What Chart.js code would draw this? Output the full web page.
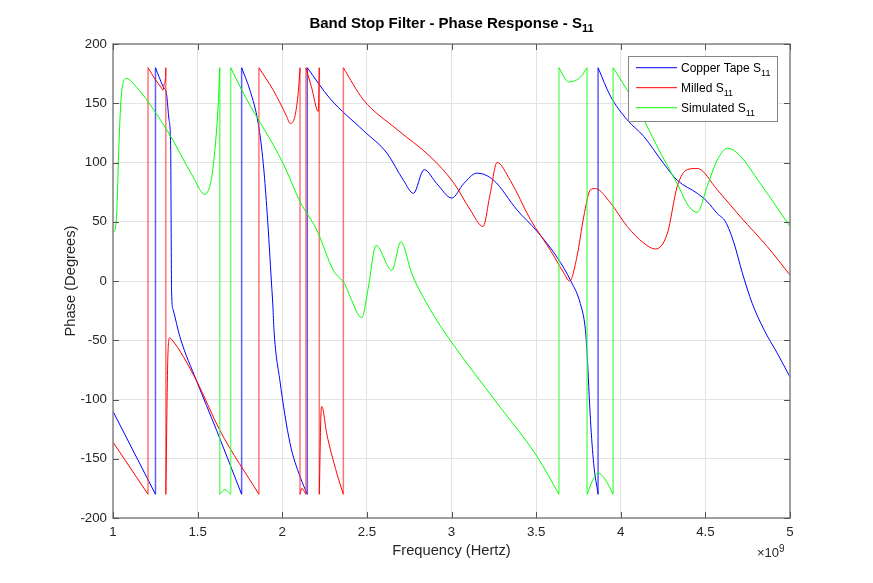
<!DOCTYPE html>
<html>
<head>
<meta charset="utf-8">
<title>Band Stop Filter - Phase Response - S11</title>
<script src="https://cdn.jsdelivr.net/npm/chart.js@4.4.1/dist/chart.umd.min.js"></script>
<style>
  html, body { margin: 0; padding: 0; background: #fff; }
  canvas { display: block; }
</style>
</head>
<body>
<canvas id="phaseChart" width="873" height="583"></canvas>
<script>
// Frequency values are in units of 10^9 Hz, phase in degrees.
// A wrap (+180 -> -180) is stored as two points at the same frequency.
const FREQ_EXPONENT = 9;
const xTicks = [1, 1.5, 2, 2.5, 3, 3.5, 4, 4.5, 5];
const yTicks = [-200, -150, -100, -50, 0, 50, 100, 150, 200];

const seriesNames = ['Copper Tape S', 'Milled S', 'Simulated S'];
const seriesSub = ['11', '11', '11'];
const seriesColors = ['#0000ff', '#ff0000', '#00ff00'];
const wrapColors = ['rgba(40,40,255,0.75)', 'rgba(255,60,60,0.7)', 'rgba(60,255,60,0.75)'];

const copperFreq = [1.000, 1.251, 1.251, 1.296, 1.316, 1.331, 1.341, 1.343, 1.346, 1.355, 1.395, 1.493, 1.612, 1.760,
  1.760, 1.809, 1.858, 1.888, 1.908, 1.921, 1.933, 1.945, 1.951, 1.986, 2.046, 2.105, 2.148,
  2.148, 2.282, 2.479, 2.618, 2.716, 2.775, 2.838, 2.914, 3.002, 3.071, 3.150, 3.249, 3.387, 3.505, 3.624, 3.705,
  3.761, 3.791, 3.801, 3.821, 3.840, 3.866,
  3.866, 3.939, 4.038, 4.136, 4.254, 4.334, 4.452, 4.511, 4.570, 4.619, 4.669, 4.718, 4.777, 4.846, 4.925, 5.000];
const copperPhase = [-110, -180, 180, 164, 158, 136, 110, 60, -8, -24, -47, -84, -126, -180,
  180, 161, 133, 99, 63, 35, 6, -22, -41, -84, -137, -165, -180,
  180, 154, 127, 108, 85, 74, 94, 82, 70, 82, 91, 85, 60, 42, 20, 0,
  -19, -41, -61, -117, -154, -180,
  180, 156, 136, 122, 99, 85, 74, 67, 57, 50, 32, 7, -19, -41, -61, -81];

const milledFreq = [1.000, 1.207, 1.207, 1.250, 1.286, 1.296, 1.302, 1.310, 1.312,
  1.312, 1.325, 1.335, 1.345, 1.493, 1.631, 1.862,
  1.862, 1.947, 2.026, 2.046, 2.075, 2.095, 2.105,
  2.105, 2.115, 2.140,
  2.140, 2.174, 2.213, 2.218, 2.219,
  2.219, 2.228, 2.234, 2.263, 2.322, 2.361,
  2.361, 2.479, 2.677, 2.874, 3.012, 3.111, 3.186, 3.229, 3.269, 3.347, 3.466, 3.584, 3.663, 3.698,
  3.742, 3.781, 3.821, 3.850, 3.939, 4.038, 4.136, 4.205, 4.275, 4.334, 4.393, 4.452, 4.570, 4.708, 4.866, 5.000];
const milledPhase = [-136, -180, 180, 170, 163, 161, 166, 171, 180,
  -180, -60, -48, -49, -84, -126, -180,
  180, 161, 139, 133, 139, 160, 180,
  -180, -175, -180,
  180, 163, 143, 171, 180,
  -180, -115, -106, -129, -162, -180,
  180, 153, 128, 105, 83, 60, 46, 74, 100, 85, 52, 26, 7, 0,
  21, 54, 77, 78, 66, 46, 32, 27, 40, 80, 94, 95, 77, 54, 29, 5];

const simFreq = [1.000, 1.020, 1.036, 1.050, 1.079, 1.118, 1.316, 1.473, 1.543, 1.575, 1.592, 1.621, 1.631,
  1.631, 1.661, 1.695,
  1.695, 1.780, 2.006, 2.105, 2.204, 2.302, 2.371, 2.400, 2.470, 2.509, 2.554, 2.647, 2.701, 2.766, 2.874, 2.992,
  3.269, 3.505, 3.635,
  3.635, 3.692, 3.762, 3.801,
  3.801, 3.835, 3.866, 3.910, 3.955,
  3.955, 4.038, 4.136, 4.235, 4.334, 4.402, 4.452, 4.511, 4.570, 4.630, 4.689, 4.826, 5.000];
const simPhase = [40, 52, 119, 158, 171, 167, 128, 88, 73, 82, 97, 147, 180,
  -180, -176, -180,
  180, 156, 99, 67, 43, 9, -3, -13, -31, -5, 30, 9, 33, 6, -24, -50,
  -103, -148, -180,
  180, 168, 172, 180,
  -180, -168, -162, -168, -180,
  180, 161, 136, 108, 82, 63, 58, 80, 102, 112, 108, 82, 46];

const FONT = '"Liberation Sans", Arial, Helvetica, sans-serif';

// split a series into smooth branches (gaps at wraps) and the vertical wrap segments
function splitSeries(xs, ys) {
  const curve = [], wraps = [];
  for (let i = 0; i < xs.length; i++) {
    curve.push({ x: xs[i], y: ys[i] });
    if (i + 1 < xs.length && xs[i + 1] === xs[i]) {
      curve.push({ x: xs[i], y: null });
      wraps.push({ x: xs[i], y: ys[i] }, { x: xs[i + 1], y: ys[i + 1] }, { x: xs[i], y: null });
    }
  }
  return { curve, wraps };
}

// text with a lowered subscript, returns total width
function textWithSub(ctx, main, sub, x, y, mainFont, subFont, drop, draw) {
  ctx.font = mainFont;
  const w1 = ctx.measureText(main).width;
  ctx.font = subFont;
  const w2 = ctx.measureText(sub).width;
  if (draw) {
    ctx.textAlign = 'left';
    ctx.font = mainFont;
    ctx.fillText(main, x, y);
    ctx.font = subFont;
    ctx.fillText(sub, x + w1, y + drop);
  }
  return w1 + w2;
}

const matlabDecor = {
  id: 'matlabDecor',
  afterDatasetsDraw(chart) {
    const { ctx, chartArea: a, scales: { x, y } } = chart;
    ctx.save();

    // axes box
    ctx.strokeStyle = '#858585';
    ctx.lineWidth = 1.5;
    ctx.strokeRect(a.left, a.top, a.right - a.left, a.bottom - a.top);

    // inward tick marks on all four sides
    ctx.strokeStyle = '#555';
    ctx.lineWidth = 1;
    ctx.beginPath();
    xTicks.forEach(v => {
      const px = Math.round(x.getPixelForValue(v)) + 0.5;
      ctx.moveTo(px, a.bottom); ctx.lineTo(px, a.bottom - 6);
      ctx.moveTo(px, a.top); ctx.lineTo(px, a.top + 6);
    });
    yTicks.forEach(v => {
      const py = Math.round(y.getPixelForValue(v)) + 0.5;
      ctx.moveTo(a.left, py); ctx.lineTo(a.left + 6, py);
      ctx.moveTo(a.right, py); ctx.lineTo(a.right - 6, py);
    });
    ctx.stroke();

    ctx.fillStyle = '#000';
    ctx.textBaseline = 'alphabetic';

    // title
    const tMain = 'bold 15px ' + FONT, tSub = 'bold 11px ' + FONT;
    const tw = textWithSub(ctx, 'Band Stop Filter - Phase Response - S', '11', 0, 0, tMain, tSub, 4, false);
    const cx = (a.left + a.right) / 2;
    textWithSub(ctx, 'Band Stop Filter - Phase Response - S', '11', cx - tw / 2, 28, tMain, tSub, 4, true);

    // axis labels
    ctx.fillStyle = '#262626';
    ctx.font = '14.7px ' + FONT;
    ctx.textAlign = 'center';
    ctx.fillText('Frequency (Hertz)', cx, 555);
    ctx.save();
    ctx.translate(75, (a.top + a.bottom) / 2);
    ctx.rotate(-Math.PI / 2);
    ctx.fillText('Phase (Degrees)', 0, 0);
    ctx.restore();

    // exponent label
    ctx.textAlign = 'left';
    ctx.font = '13px ' + FONT;
    const ex = '\u00d710';
    ctx.fillText(ex, 757, 557);
    const ew = ctx.measureText(ex).width;
    ctx.font = '10px ' + FONT;
    ctx.fillText(String(FREQ_EXPONENT), 757 + ew, 552);

    // legend
    const lx = 628, ly = 56, lw = 149, lh = 65;
    ctx.fillStyle = '#fff';
    ctx.fillRect(lx, ly, lw, lh);
    ctx.strokeStyle = '#858585';
    ctx.lineWidth = 1;
    ctx.strokeRect(lx + 0.5, ly + 0.5, lw, lh);
    const lMain = '12px ' + FONT, lSub = '9px ' + FONT;
    seriesNames.forEach((name, i) => {
      const rowY = ly + 11.7 + i * 20;
      ctx.strokeStyle = seriesColors[i];
      ctx.beginPath();
      ctx.moveTo(636, rowY); ctx.lineTo(677, rowY);
      ctx.stroke();
      ctx.fillStyle = '#000';
      textWithSub(ctx, name, seriesSub[i], 681, rowY + 4, lMain, lSub, 4, true);
    });

    ctx.restore();
  }
};

const makeDatasets = (i, xs, ys, order) => {
  const parts = splitSeries(xs, ys);
  return [{
    label: seriesNames[i] + seriesSub[i],
    data: parts.curve,
    borderColor: seriesColors[i],
    borderWidth: 1,
    pointRadius: 0,
    cubicInterpolationMode: 'monotone',
    spanGaps: false,
    order: order
  }, {
    label: seriesNames[i] + seriesSub[i] + ' wrap',
    data: parts.wraps,
    borderColor: wrapColors[i],
    borderWidth: 1.5,
    pointRadius: 0,
    tension: 0,
    spanGaps: false,
    order: order
  }];
};

const ctx = document.getElementById('phaseChart').getContext('2d');
const phaseChart = new Chart(ctx, {
  type: 'line',
  data: {
    datasets: [
      ...makeDatasets(0, copperFreq, copperPhase, 2),
      ...makeDatasets(1, milledFreq, milledPhase, 1),
      ...makeDatasets(2, simFreq, simPhase, 0)
    ]
  },
  options: {
    responsive: false,
    animation: false,
    layout: { padding: { left: 0, top: 44, right: 83, bottom: 0 } },
    plugins: {
      legend: { display: false },
      title: { display: false },
      tooltip: { enabled: false }
    },
    scales: {
      x: {
        type: 'linear',
        min: 1,
        max: 5,
        afterBuildTicks: s => { s.ticks = xTicks.map(v => ({ value: v })); },
        afterFit: s => { s.height = 65; s.paddingLeft = 0; s.paddingRight = 0; },
        grid: { color: '#e3e3e3', drawTicks: false },
        border: { display: false },
        ticks: {
          padding: 6,
          maxRotation: 0,
          autoSkip: false,
          color: '#262626',
          font: { family: FONT, size: 13.3 },
          callback: v => String(v)
        }
      },
      y: {
        min: -200,
        max: 200,
        afterBuildTicks: s => { s.ticks = yTicks.map(v => ({ value: v })); },
        afterFit: s => { s.width = 113; s.paddingTop = 0; s.paddingBottom = 0; },
        grid: { color: '#e3e3e3', drawTicks: false },
        border: { display: false },
        ticks: {
          padding: 6,
          autoSkip: false,
          color: '#262626',
          font: { family: FONT, size: 13.3 },
          callback: v => String(v)
        }
      }
    }
  },
  plugins: [matlabDecor]
});
</script>
</body>
</html>
